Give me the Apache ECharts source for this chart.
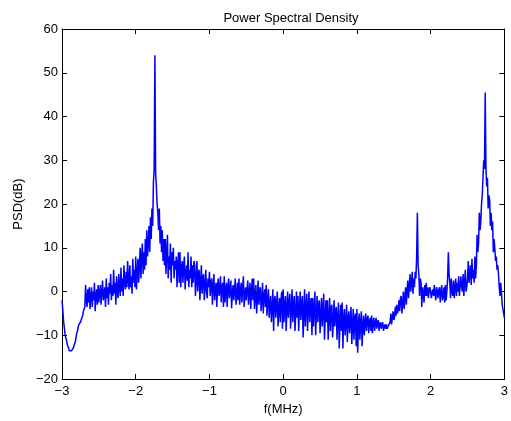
<!DOCTYPE html>
<html>
<head>
<meta charset="utf-8">
<script src="https://cdn.jsdelivr.net/npm/echarts@6/dist/echarts.min.js"></script>
<style>html,body{margin:0;padding:0;background:#fff}#c{width:511px;height:421px}</style>
</head>
<body>
<div id="c"></div>
<script>
// frequency grid: start and step (MHz)
var fStart = -3.0;
var fStep = 0.01;
// PSD values (dB), one per 0.01 MHz step (20 per row = 0.2 MHz)
var psd = [
  -2, -4, -6.5, -8, -9.5, -10.5, -11, -12, -12.5, -13, -13.5, -13.2, -13.9, -13.5, -13.8, -13, -12.5, -12, -11.5, -10.5,
  -9.5, -9, -8, -7.5, -7.8, -7, -6.5, -6, -5.5, -4.5, -4, -3.5, 1.5, -2, -3.5, 0.5, -2.5, 1, -4, -1,
  1, -3.5, 0, -2, 2, -4.5, -1, 0.5, -3, 1.5, -2.5, -0.5, 1.5, -3, 0, 2.5, -2, -1, 1, -3.5,
  3, -1.5, 1, -3, 2, -0.5, 4, -2, 1.5, -1, 5, -0.5, 2, -3, 3.5, 0, -1.5, 4, 1, -1,
  5.5, 0, 3, -1, 6, 2, 0.5, 4.5, 1, 7, 2.5, 0.5, 6, 1, 3.5, -0.5, 7.5, 2, 5, 1,
  8, 0.5, 4, 7.5, 2, 6, 10, 3, 8, 11, 4, 9, 5, 12, 6, 14, 8, 11, 15, 9,
  17, 12, 19, 15, 25, 28, 54, 27, 24, 20, 18, 14, 19, 11, 15, 9, 14, 7, 12, 6,
  12, 4, 9, 13, 3, 8, 5, 11, 2, 9, 6, 10, 3, 7, 5, 8, 1, 6, 9, 2,
  9, 1, 5, 7, 2, 6, 8, 0.5, 4, 6, 2.5, 9, 1, 5, 3, 8, 1, 6, 2, 7,
  6, -1, 3, 7, 0, 4, 5, -2, 2, 6, -0.5, 3, 4, -2, 1, 5, 0, -1.5, 3, 1,
  4.5, -1, 2, 3, -3, 1, 4, -2, 0.5, 2, -3.5, 1.5, 3, -1, 0, 3.5, -2.5, 1, 2, -3.5,
  3.5, -2.5, 0, 2, -3.5, 1, 3, -1.5, 0.5, 2.5, -3.8, -0.5, 1.5, -2, 0.5, 3, -3, -1, 2, -2,
  3, -3, 0, 2, -2.5, 1, 3.5, -3.5, -1, 1, -2, 0.5, 2.5, -3, -0.5, 2, -4, 0, 3, -2,
  3, -4, -1, 1.5, -5, -1.5, 2.5, -3, 0, 1, -4.5, -2, 2, -5, -1, 0.5, -3.5, 1.5, -5.5, -2,
  0.5, -6, -3, -1, -7, -4, 0.5, -9, -2, -1, -6, -3, 0, -8, -4, -1.5, -7, -2, 0, -8.5,
  0.5, -7, -3, -1, -9, -4, 0, -6, -2.5, -0.5, -8.5, -4, 0.5, -7, -3, -1, -9, -5, 0, -6,
  -1, -9, -4, 0, -6.5, -3, -1, -10.5, -5, 0.5, -8, -3.5, -0.5, -9, -4, 0, -7, -2.5, -1.5, -10,
  -1.5, -8, -4, 0, -10, -5, -1, -7, -3, -2, -9.5, -5.5, -1.5, -8, -4, -0.5, -11, -6, -2, -7,
  -2, -11, -6, -1.5, -9, -4, -3, -10.5, -7, -2, -8, -4.5, -3.5, -11, -6, -2.5, -13, -7, -3, -9,
  -2.5, -13, -6, -4, -10, -7, -3, -11.5, -6, -4.5, -9.5, -7, -3.5, -12, -8, -4, -11, -6, -5, -12.5,
  -4, -14, -8, -5, -11, -7, -4.5, -12.5, -8, -5.5, -10, -7, -5, -9, -6.5, -5.5, -9.5, -7, -6, -9,
  -5.5, -9.5, -7, -6, -9, -7.5, -6, -8.5, -7, -6.5, -9, -7.5, -7, -8.5, -7.5, -7, -9, -8, -7.5, -8.5,
  -7.5, -8.5, -8, -8.3, -8, -7, -5, -7.5, -6, -4.5, -6.5, -6, -3.5, -5.5, -3, -5, -4, -2, -4.5, -1.5,
  -1, -5, -2.5, 0, -4, -1.5, 1, -3, 0, 2.5, -1.5, 1, 4, 0, 2, 4.5, -0.5, 3, 1, 4.5,
  3, 8, 18, 6, 4, -1, 3, 2, -3.5, 1, 0, -2.5, 1.5, -1, 2, -1, 1, -1.5, 0.5, 1,
  1, -1.5, 0, 0.5, -1, 1.5, -0.5, -2, 1, 0, -1.5, 0.5, 1, -2.5, 0, 1.5, -2, -1, 1, -2.5,
  1.5, -2, 0, 3, 9, 4, 2, -1.5, 3, 0, -1, 2.5, -1.5, 1, 3, -1, 2, 0, 3.5, -1,
  -1, 3.5, 1, 0, 4, -1, 2, 5, 0, 1, 3, 7, 2, 4, 6, 1.5, 7.5, 3, 5, 2,
  8, 3, 6, 13, 9, 11, 18, 14, 16, 20, 22, 26, 30, 28, 45.5, 28, 24, 26, 19, 22,
  21, 15, 18, 14, 16, 9, 12, 10, 7, 8, 5, 6, 4, 1, -1, 2, 0, -3, -4, -5,
  -6
];
var xTicks = [-3, -2, -1, 0, 1, 2, 3];
var yTicks = [-20, -10, 0, 10, 20, 30, 40, 50, 60];

var pts = psd.map(function (v, i) { return [+(fStart + i * fStep).toFixed(4), v]; });
function fmt(v) { return String(v).replace('-', '\u2212'); }
var font = 'Liberation Sans, Arial, sans-serif';
var ax = {
  axisLine: { show: true, onZero: false, lineStyle: { color: '#000', width: 1 } },
  axisTick: { show: true, inside: true, length: 5, lineStyle: { color: '#000' } },
  splitLine: { show: false }
};
function merge(a, b) { var o = {}; for (var k in a) o[k] = a[k]; for (var k2 in b) o[k2] = b[k2]; return o; }

var chart = echarts.init(document.getElementById('c'), null, { renderer: 'canvas' });
chart.setOption({
  animation: false,
  backgroundColor: '#fff',
  title: {
    text: 'Power Spectral Density', left: 286, top: 7, textAlign: 'center',
    textStyle: { fontFamily: font, fontSize: 13, fontWeight: 'normal', color: '#000' }
  },
  grid: { left: 62, right: 2, top: 29, bottom: 40, containLabel: false },
  xAxis: [
    merge(ax, { type: 'value', min: xTicks[0], max: xTicks[xTicks.length - 1], interval: 1, position: 'bottom',
      name: 'f(MHz)', nameLocation: 'middle', nameGap: 22,
      nameTextStyle: { fontFamily: font, fontSize: 13, color: '#000' },
      axisLabel: { fontFamily: font, fontSize: 13, color: '#000', margin: 6, formatter: fmt } }),
    merge(ax, { type: 'value', min: xTicks[0], max: xTicks[xTicks.length - 1], interval: 1, position: 'top', axisLabel: { show: false } })
  ],
  yAxis: [
    merge(ax, { type: 'value', min: yTicks[0], max: yTicks[yTicks.length - 1], interval: 10, position: 'left',
      name: 'PSD(dB)', nameLocation: 'middle', nameGap: 33,
      nameTextStyle: { fontFamily: font, fontSize: 13, color: '#000' },
      axisLabel: { fontFamily: font, fontSize: 13, color: '#000', margin: 4, formatter: fmt } }),
    merge(ax, { type: 'value', min: yTicks[0], max: yTicks[yTicks.length - 1], interval: 10, position: 'right', axisLabel: { show: false } })
  ],
  series: [{
    type: 'line', data: pts, xAxisIndex: 0, yAxisIndex: 0,
    showSymbol: false, symbol: 'none',
    lineStyle: { color: '#0000ff', width: 1.5 }
  }]
});
</script>
</body>
</html>
